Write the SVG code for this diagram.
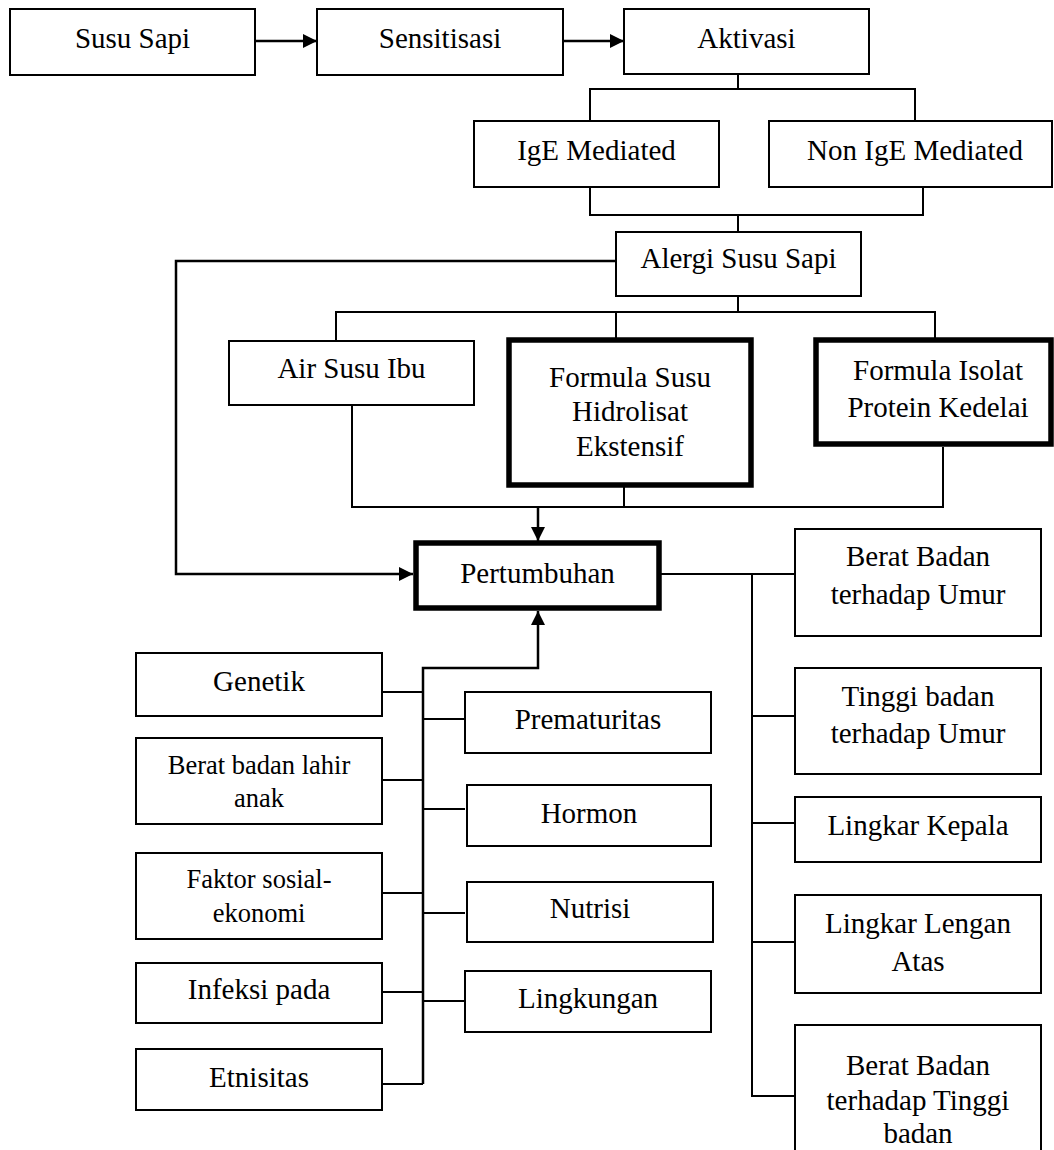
<svg xmlns="http://www.w3.org/2000/svg" width="1054" height="1150" viewBox="0 0 1054 1150">
<style>
.box{fill:#fff;stroke:#000;stroke-width:2}
.thick{fill:#fff;stroke:#000;stroke-width:5.5}
.c{fill:none;stroke:#000;stroke-width:2}
.a{fill:none;stroke:#000;stroke-width:2.5}
text{font-family:"Liberation Serif","Times New Roman",serif;font-size:29px;fill:#000;text-anchor:middle}
.s{font-size:26.5px}
</style>
<defs>
<marker id="ah" viewBox="0 0 14 14" refX="14" refY="7" markerWidth="14" markerHeight="14" orient="auto" markerUnits="userSpaceOnUse"><path d="M0,0 L14,7 L0,14 z" fill="#000"/></marker>
</defs>
<rect width="1054" height="1150" fill="#fff"/>
<g id="connectors">
<path class="a" d="M255,41 H317" marker-end="url(#ah)"/>
<path class="a" d="M563,41 H624" marker-end="url(#ah)"/>
<path class="c" d="M738,74 V89 M590,121 V89 H915 V121"/>
<path class="c" d="M590,187 V215 H923 V187 M738,215 V232"/>
<path class="a" d="M616,261 H176 V574 H413" marker-end="url(#ah)"/>
<path class="c" d="M738,296 V312 M336,341 V312 H935 V338 M616,312 V338"/>
<path class="c" d="M352,405 V507 H943 V447 M624,487 V507"/>
<path class="a" d="M538,507 V541" marker-end="url(#ah)"/>
<path class="a" d="M423,1084 V668 H538 V611" marker-end="url(#ah)"/>
<path class="c" d="M382,692 H423 M382,780 H423 M382,893 H423 M382,992 H423 M382,1084 H423"/>
<path class="c" d="M423,719 H465 M423,809 H465 M423,913 H465 M423,1001 H465"/>
<path class="c" d="M661,574 H795 M752,574 V1096 H795 M752,716 H795 M752,823 H795 M752,942 H795"/>
</g>
<g id="susu-sapi"><rect class="box" x="10" y="9" width="245" height="66"/><text x="132.5" y="48">Susu Sapi</text></g>
<g id="sensitisasi"><rect class="box" x="317" y="9" width="246" height="66"/><text x="440" y="48">Sensitisasi</text></g>
<g id="aktivasi"><rect class="box" x="624" y="9" width="245" height="65"/><text x="746.5" y="48">Aktivasi</text></g>
<g id="ige"><rect class="box" x="474" y="121" width="245" height="66"/><text x="596.5" y="160">IgE Mediated</text></g>
<g id="non-ige"><rect class="box" x="769" y="121" width="283" height="66"/><text x="915" y="160">Non IgE Mediated</text></g>
<g id="alergi"><rect class="box" x="616" y="232" width="245" height="64"/><text x="738.5" y="268">Alergi Susu Sapi</text></g>
<g id="asi"><rect class="box" x="229" y="341" width="245" height="64"/><text x="351.5" y="378">Air Susu Ibu</text></g>
<g id="formula-hidrolisat"><rect class="thick" x="509" y="340" width="242" height="145"/><text x="630" y="387">Formula Susu</text><text x="630" y="421">Hidrolisat</text><text x="630" y="456">Ekstensif</text></g>
<g id="formula-isolat"><rect class="thick" x="816" y="340" width="235" height="104"/><text x="938" y="380">Formula Isolat</text><text x="938" y="417">Protein Kedelai</text></g>
<g id="pertumbuhan"><rect class="thick" x="416" y="543" width="243" height="65"/><text x="537.5" y="583">Pertumbuhan</text></g>
<g id="bb-umur"><rect class="box" x="795" y="529" width="246" height="107"/><text x="918" y="566">Berat Badan</text><text x="918" y="604">terhadap Umur</text></g>
<g id="tb-umur"><rect class="box" x="795" y="668" width="246" height="106"/><text x="918" y="706">Tinggi badan</text><text x="918" y="743">terhadap Umur</text></g>
<g id="lingkar-kepala"><rect class="box" x="795" y="797" width="246" height="65"/><text x="918" y="835">Lingkar Kepala</text></g>
<g id="lila"><rect class="box" x="795" y="895" width="246" height="98"/><text x="918" y="933">Lingkar Lengan</text><text x="918" y="971">Atas</text></g>
<g id="bb-tb"><rect class="box" x="795" y="1025" width="246" height="140"/><text x="918" y="1075">Berat Badan</text><text x="918" y="1110">terhadap Tinggi</text><text x="918" y="1143">badan</text></g>
<g id="genetik"><rect class="box" x="136" y="653" width="246" height="63"/><text x="259" y="691">Genetik</text></g>
<g id="bblahir"><rect class="box" x="136" y="738" width="246" height="86"/><text class="s" x="259" y="774">Berat badan lahir</text><text class="s" x="259" y="807">anak</text></g>
<g id="sosek"><rect class="box" x="136" y="853" width="246" height="86"/><text class="s" x="259" y="888">Faktor sosial-</text><text class="s" x="259" y="922">ekonomi</text></g>
<g id="infeksi"><rect class="box" x="136" y="963" width="246" height="60"/><text x="259" y="999">Infeksi pada</text></g>
<g id="etnisitas"><rect class="box" x="136" y="1049" width="246" height="61"/><text x="259" y="1087">Etnisitas</text></g>
<g id="prematuritas"><rect class="box" x="465" y="692" width="246" height="61"/><text x="588" y="729">Prematuritas</text></g>
<g id="hormon"><rect class="box" x="467" y="785" width="244" height="61"/><text x="589" y="823">Hormon</text></g>
<g id="nutrisi"><rect class="box" x="467" y="882" width="246" height="60"/><text x="590" y="918">Nutrisi</text></g>
<g id="lingkungan"><rect class="box" x="465" y="971" width="246" height="61"/><text x="588" y="1008">Lingkungan</text></g>
</svg>
